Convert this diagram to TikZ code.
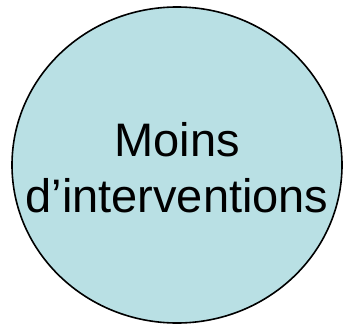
\documentclass[tikz,border=0pt]{standalone}
\usepackage{fontspec}
\setmainfont{Liberation Sans}
\definecolor{bubble-fill}{HTML}{B9E0E4}
\definecolor{bubble-border}{HTML}{000000}
\tikzset{
  bubble/.style={draw=bubble-border, line width=1.6pt, fill=bubble-fill},
  caption/.style={align=center, inner sep=0pt, font=\fontsize{47}{56}\selectfont}
}

\begin{document}
\begin{tikzpicture}[x=1pt, y=1pt]

  % ---- Frame ---------------------------------------------------------------
  \useasboundingbox (0, 0) rectangle (343, 325);

  % ---- Bubble --------------------------------------------------------------
  \coordinate (centre) at (177, 160);
  \draw[bubble] (centre) ellipse [x radius=165, y radius=158];
  \node[caption] (fewer) at (177, 157) {Moins\\d’interventions};

\end{tikzpicture}
\end{document}
